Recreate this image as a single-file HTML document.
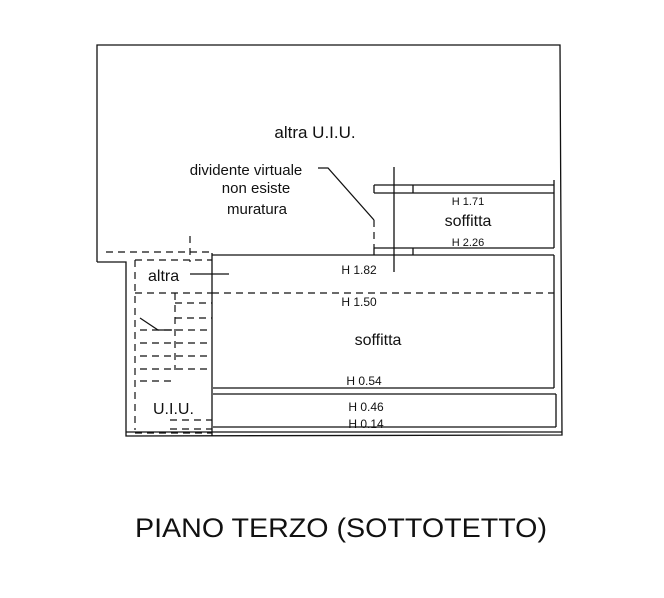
<!DOCTYPE html>
<html><head><style>
html,body{margin:0;padding:0;background:#fff;}
svg{display:block;}
text{font-family:"Liberation Sans",sans-serif;fill:#111;}
</style></head><body>
<svg width="664" height="598" viewBox="0 0 664 598" xmlns="http://www.w3.org/2000/svg">
<g stroke="#111" fill="none" stroke-width="1.3">
<polyline points="97,262 97,45 560,45 562,435 126,436 126,262 97,262"/>
<line x1="126" y1="432" x2="562" y2="432"/>
<line x1="374" y1="185" x2="554" y2="185"/>
<line x1="374" y1="193" x2="554" y2="193"/>
<line x1="374" y1="185" x2="374" y2="193"/>
<line x1="413" y1="185" x2="413" y2="193"/>
<line x1="554" y1="180" x2="554" y2="248"/>
<line x1="374" y1="248" x2="554" y2="248"/>
<line x1="374" y1="248" x2="374" y2="255"/>
<line x1="413" y1="248" x2="413" y2="255"/>
<line x1="212" y1="255" x2="554" y2="255"/>
<line x1="554" y1="255" x2="554" y2="388"/>
<line x1="213" y1="388" x2="554" y2="388"/>
<line x1="212" y1="253" x2="212" y2="436"/>
<line x1="213" y1="394" x2="556" y2="394"/>
<line x1="556" y1="394" x2="556" y2="427"/>
<line x1="213" y1="427" x2="556" y2="427"/>
<line x1="394" y1="167" x2="394" y2="272"/>
<polyline points="318,168 328,168 374,220"/>
<line x1="190" y1="274" x2="229" y2="274"/>
</g>
<g stroke="#111" fill="none" stroke-width="1.2" stroke-dasharray="7,5">
<line x1="374" y1="220" x2="374" y2="248"/>
<line x1="212" y1="293" x2="554" y2="293"/>
<line x1="106" y1="252" x2="212" y2="252"/>
<line x1="135" y1="260" x2="212" y2="260"/>
<line x1="135" y1="260" x2="135" y2="430"/>
<line x1="135" y1="433" x2="212" y2="433"/>
<line x1="190" y1="236" x2="190" y2="262"/>
<line x1="135" y1="293" x2="212" y2="293"/>
<line x1="175" y1="303" x2="212" y2="303"/>
<line x1="175" y1="318" x2="212" y2="318"/>
<line x1="140" y1="330" x2="212" y2="330"/>
<line x1="140" y1="343" x2="212" y2="343"/>
<line x1="140" y1="356" x2="212" y2="356"/>
<line x1="140" y1="369" x2="212" y2="369"/>
<line x1="140" y1="381" x2="175" y2="381"/>
<line x1="175" y1="293" x2="175" y2="370"/>
<line x1="170" y1="420" x2="212" y2="420"/>
<line x1="170" y1="429" x2="212" y2="429"/>
</g>
<polyline points="140,318 158,330 172,330" stroke="#111" fill="none" stroke-width="1.2"/>
<text x="315" y="138" font-size="17" text-anchor="middle">altra U.I.U.</text>
<text x="246" y="175" font-size="15" text-anchor="middle">dividente virtuale</text>
<text x="256" y="193" font-size="15" text-anchor="middle">non esiste</text>
<text x="257" y="214" font-size="15" text-anchor="middle">muratura</text>
<text x="468" y="205" font-size="11" text-anchor="middle">H 1.71</text>
<text x="468" y="226" font-size="16" text-anchor="middle">soffitta</text>
<text x="468" y="246" font-size="11" text-anchor="middle">H 2.26</text>
<text x="359" y="274" font-size="12" text-anchor="middle">H 1.82</text>
<text x="359" y="306" font-size="12" text-anchor="middle">H 1.50</text>
<text x="378" y="345" font-size="16" text-anchor="middle">soffitta</text>
<text x="364" y="385" font-size="12" text-anchor="middle">H 0.54</text>
<text x="366" y="411" font-size="12" text-anchor="middle">H 0.46</text>
<text x="366" y="428" font-size="12" text-anchor="middle">H 0.14</text>
<text x="148" y="281" font-size="16">altra</text>
<text x="153" y="414" font-size="16">U.I.U.</text>
<text x="135" y="537" font-size="27" textLength="412" lengthAdjust="spacingAndGlyphs">PIANO TERZO (SOTTOTETTO)</text>
</svg>
</body></html>
